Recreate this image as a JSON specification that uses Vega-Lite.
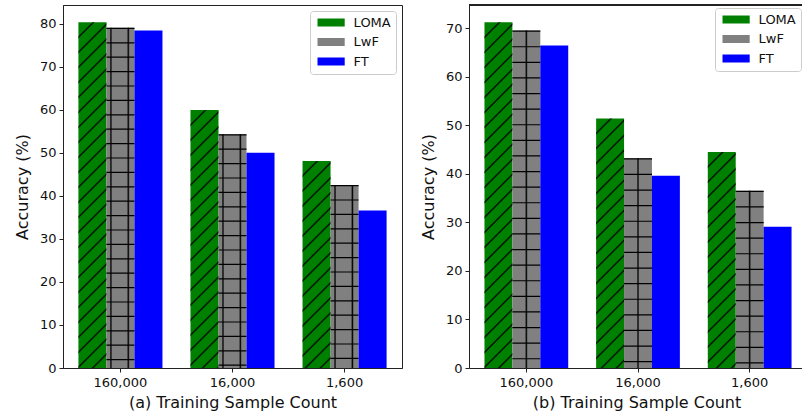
{
"$schema":"https://vega.github.io/schema/vega-lite/v6.json",
"background":"white",
"padding":{"left":13,"top":4,"right":0,"bottom":0},
"spacing":17,
"datasets":{
"a":[
{"n":"160,000","method":"LOMA","acc":80.3},{"n":"160,000","method":"LwF","acc":79.0},{"n":"160,000","method":"FT","acc":78.4},
{"n":"16,000","method":"LOMA","acc":59.9},{"n":"16,000","method":"LwF","acc":54.3},{"n":"16,000","method":"FT","acc":50.0},
{"n":"1,600","method":"LOMA","acc":48.1},{"n":"1,600","method":"LwF","acc":42.5},{"n":"1,600","method":"FT","acc":36.6}],
"b":[
{"n":"160,000","method":"LOMA","acc":71.2},{"n":"160,000","method":"LwF","acc":69.5},{"n":"160,000","method":"FT","acc":66.4},
{"n":"16,000","method":"LOMA","acc":51.4},{"n":"16,000","method":"LwF","acc":43.2},{"n":"16,000","method":"FT","acc":39.6},
{"n":"1,600","method":"LOMA","acc":44.5},{"n":"1,600","method":"LwF","acc":36.5},{"n":"1,600","method":"FT","acc":29.1}]
},
"hconcat":[
{
"width":339,"height":363,
"data":{"name":"a"},
"encoding":{
"x":{"field":"n","type":"nominal","sort":null,"scale":{"domain":["160,000","16,000","1,600"],"paddingInner":0.25,"paddingOuter":0.1375},"axis":{"title":"(a) Training Sample Count"}},
"xOffset":{"field":"method","type":"nominal","sort":null,"scale":{"domain":["LOMA","LwF","FT"],"paddingInner":0,"paddingOuter":0}},
"y":{"field":"acc","type":"quantitative","scale":{"domain":[0,84.3],"nice":false},"axis":{"title":"Accuracy (%)","values":[0,10,20,30,40,50,60,70,80]}}
},
"layer":[
{"mark":{"type":"bar"},"encoding":{"fill":{"field":"method","type":"nominal","scale":{"domain":["LOMA","LwF","FT"],"range":["#008000","#808080","#0000ff"]},"legend":{"title":null,"labelFontSize":13,"offset":6}}}},
{"transform":[{"filter":"datum.method === 'LOMA'"}],"mark":{"type":"bar"},"encoding":{"fill":{"condition":[
{"test":"datum.n === '160,000'","value":{"gradient":"linear","x1":0,"y1":0,"x2":0.0931,"y2":1.1492,"stops":[{"offset":0,"color":"#0000"},{"offset":0.033,"color":"#0000"},{"offset":0.0375,"color":"#000"},{"offset":0.042,"color":"#0000"},{"offset":0.0705,"color":"#0000"},{"offset":0.075,"color":"#000"},{"offset":0.0795,"color":"#0000"},{"offset":0.108,"color":"#0000"},{"offset":0.1125,"color":"#000"},{"offset":0.117,"color":"#0000"},{"offset":0.1455,"color":"#0000"},{"offset":0.15,"color":"#000"},{"offset":0.1545,"color":"#0000"},{"offset":0.183,"color":"#0000"},{"offset":0.1875,"color":"#000"},{"offset":0.192,"color":"#0000"},{"offset":0.2205,"color":"#0000"},{"offset":0.225,"color":"#000"},{"offset":0.2295,"color":"#0000"},{"offset":0.258,"color":"#0000"},{"offset":0.2625,"color":"#000"},{"offset":0.267,"color":"#0000"},{"offset":0.2955,"color":"#0000"},{"offset":0.3,"color":"#000"},{"offset":0.3045,"color":"#0000"},{"offset":0.333,"color":"#0000"},{"offset":0.3375,"color":"#000"},{"offset":0.342,"color":"#0000"},{"offset":0.3705,"color":"#0000"},{"offset":0.375,"color":"#000"},{"offset":0.3795,"color":"#0000"},{"offset":0.408,"color":"#0000"},{"offset":0.4125,"color":"#000"},{"offset":0.417,"color":"#0000"},{"offset":0.4455,"color":"#0000"},{"offset":0.45,"color":"#000"},{"offset":0.4545,"color":"#0000"},{"offset":0.483,"color":"#0000"},{"offset":0.4875,"color":"#000"},{"offset":0.492,"color":"#0000"},{"offset":0.5205,"color":"#0000"},{"offset":0.525,"color":"#000"},{"offset":0.5295,"color":"#0000"},{"offset":0.558,"color":"#0000"},{"offset":0.5625,"color":"#000"},{"offset":0.567,"color":"#0000"},{"offset":0.5955,"color":"#0000"},{"offset":0.6,"color":"#000"},{"offset":0.6045,"color":"#0000"},{"offset":0.633,"color":"#0000"},{"offset":0.6375,"color":"#000"},{"offset":0.642,"color":"#0000"},{"offset":0.6705,"color":"#0000"},{"offset":0.675,"color":"#000"},{"offset":0.6795,"color":"#0000"},{"offset":0.708,"color":"#0000"},{"offset":0.7125,"color":"#000"},{"offset":0.717,"color":"#0000"},{"offset":0.7455,"color":"#0000"},{"offset":0.75,"color":"#000"},{"offset":0.7545,"color":"#0000"},{"offset":0.783,"color":"#0000"},{"offset":0.7875,"color":"#000"},{"offset":0.792,"color":"#0000"},{"offset":0.8205,"color":"#0000"},{"offset":0.825,"color":"#000"},{"offset":0.8295,"color":"#0000"},{"offset":0.858,"color":"#0000"},{"offset":0.8625,"color":"#000"},{"offset":0.867,"color":"#0000"},{"offset":0.8955,"color":"#0000"},{"offset":0.9,"color":"#000"},{"offset":0.9045,"color":"#0000"},{"offset":0.933,"color":"#0000"},{"offset":0.9375,"color":"#000"},{"offset":0.942,"color":"#0000"},{"offset":1,"color":"#0000"}]}},
{"test":"datum.n === '16,000'","value":{"gradient":"linear","x1":0,"y1":0,"x2":0.1664,"y2":1.5329,"stops":[{"offset":0,"color":"#0000"},{"offset":0.033,"color":"#0000"},{"offset":0.0375,"color":"#000"},{"offset":0.042,"color":"#0000"},{"offset":0.0705,"color":"#0000"},{"offset":0.075,"color":"#000"},{"offset":0.0795,"color":"#0000"},{"offset":0.108,"color":"#0000"},{"offset":0.1125,"color":"#000"},{"offset":0.117,"color":"#0000"},{"offset":0.1455,"color":"#0000"},{"offset":0.15,"color":"#000"},{"offset":0.1545,"color":"#0000"},{"offset":0.183,"color":"#0000"},{"offset":0.1875,"color":"#000"},{"offset":0.192,"color":"#0000"},{"offset":0.2205,"color":"#0000"},{"offset":0.225,"color":"#000"},{"offset":0.2295,"color":"#0000"},{"offset":0.258,"color":"#0000"},{"offset":0.2625,"color":"#000"},{"offset":0.267,"color":"#0000"},{"offset":0.2955,"color":"#0000"},{"offset":0.3,"color":"#000"},{"offset":0.3045,"color":"#0000"},{"offset":0.333,"color":"#0000"},{"offset":0.3375,"color":"#000"},{"offset":0.342,"color":"#0000"},{"offset":0.3705,"color":"#0000"},{"offset":0.375,"color":"#000"},{"offset":0.3795,"color":"#0000"},{"offset":0.408,"color":"#0000"},{"offset":0.4125,"color":"#000"},{"offset":0.417,"color":"#0000"},{"offset":0.4455,"color":"#0000"},{"offset":0.45,"color":"#000"},{"offset":0.4545,"color":"#0000"},{"offset":0.483,"color":"#0000"},{"offset":0.4875,"color":"#000"},{"offset":0.492,"color":"#0000"},{"offset":0.5205,"color":"#0000"},{"offset":0.525,"color":"#000"},{"offset":0.5295,"color":"#0000"},{"offset":0.558,"color":"#0000"},{"offset":0.5625,"color":"#000"},{"offset":0.567,"color":"#0000"},{"offset":0.5955,"color":"#0000"},{"offset":0.6,"color":"#000"},{"offset":0.6045,"color":"#0000"},{"offset":0.633,"color":"#0000"},{"offset":0.6375,"color":"#000"},{"offset":0.642,"color":"#0000"},{"offset":0.6705,"color":"#0000"},{"offset":0.675,"color":"#000"},{"offset":0.6795,"color":"#0000"},{"offset":0.708,"color":"#0000"},{"offset":0.7125,"color":"#000"},{"offset":0.717,"color":"#0000"},{"offset":1,"color":"#0000"}]}}],
"value":{"gradient":"linear","x1":0,"y1":0,"x2":0.2564,"y2":1.8968,"stops":[{"offset":0,"color":"#0000"},{"offset":0.033,"color":"#0000"},{"offset":0.0375,"color":"#000"},{"offset":0.042,"color":"#0000"},{"offset":0.0705,"color":"#0000"},{"offset":0.075,"color":"#000"},{"offset":0.0795,"color":"#0000"},{"offset":0.108,"color":"#0000"},{"offset":0.1125,"color":"#000"},{"offset":0.117,"color":"#0000"},{"offset":0.1455,"color":"#0000"},{"offset":0.15,"color":"#000"},{"offset":0.1545,"color":"#0000"},{"offset":0.183,"color":"#0000"},{"offset":0.1875,"color":"#000"},{"offset":0.192,"color":"#0000"},{"offset":0.2205,"color":"#0000"},{"offset":0.225,"color":"#000"},{"offset":0.2295,"color":"#0000"},{"offset":0.258,"color":"#0000"},{"offset":0.2625,"color":"#000"},{"offset":0.267,"color":"#0000"},{"offset":0.2955,"color":"#0000"},{"offset":0.3,"color":"#000"},{"offset":0.3045,"color":"#0000"},{"offset":0.333,"color":"#0000"},{"offset":0.3375,"color":"#000"},{"offset":0.342,"color":"#0000"},{"offset":0.3705,"color":"#0000"},{"offset":0.375,"color":"#000"},{"offset":0.3795,"color":"#0000"},{"offset":0.408,"color":"#0000"},{"offset":0.4125,"color":"#000"},{"offset":0.417,"color":"#0000"},{"offset":0.4455,"color":"#0000"},{"offset":0.45,"color":"#000"},{"offset":0.4545,"color":"#0000"},{"offset":0.483,"color":"#0000"},{"offset":0.4875,"color":"#000"},{"offset":0.492,"color":"#0000"},{"offset":0.5205,"color":"#0000"},{"offset":0.525,"color":"#000"},{"offset":0.5295,"color":"#0000"},{"offset":0.558,"color":"#0000"},{"offset":0.5625,"color":"#000"},{"offset":0.567,"color":"#0000"},{"offset":0.5955,"color":"#0000"},{"offset":0.6,"color":"#000"},{"offset":0.6045,"color":"#0000"},{"offset":1,"color":"#0000"}]}}}},
{"transform":[{"filter":"datum.method === 'LwF'"}],"mark":{"type":"bar","fill":{"gradient":"linear","x1":0,"y1":0,"x2":1,"y2":0,"stops":[{"offset":0,"color":"#0000"},{"offset":0.11,"color":"#0000"},{"offset":0.16,"color":"#000"},{"offset":0.21,"color":"#0000"},{"offset":0.73,"color":"#0000"},{"offset":0.78,"color":"#000"},{"offset":0.83,"color":"#0000"},{"offset":1,"color":"#0000"}]}}},
{"transform":[{"filter":"datum.method === 'LwF'"}],"mark":{"type":"rule","color":"#000","strokeWidth":28,"strokeDash":[1.2,13.2],"strokeCap":"butt"},"encoding":{"y2":{"datum":0}}}
]
},
{
"width":335,"height":363,
"view":{"stroke":null},
"data":{"name":"b"},
"layer":[
{
"encoding":{
"x":{"field":"n","type":"nominal","sort":null,"scale":{"domain":["160,000","16,000","1,600"],"paddingInner":0.25,"paddingOuter":0.125,"align":0.554},"axis":{"title":"(b) Training Sample Count"}},
"xOffset":{"field":"method","type":"nominal","sort":null,"scale":{"domain":["LOMA","LwF","FT"],"paddingInner":0,"paddingOuter":0}},
"y":{"field":"acc","type":"quantitative","scale":{"domain":[0,74.76],"nice":false},"axis":{"title":"Accuracy (%)","values":[0,10,20,30,40,50,60,70]}}
},
"layer":[
{"mark":{"type":"bar"},"encoding":{"fill":{"field":"method","type":"nominal","scale":{"domain":["LOMA","LwF","FT"],"range":["#008000","#808080","#0000ff"]},"legend":{"title":null,"labelFontSize":13,"offset":3}}}},
{"transform":[{"filter":"datum.method === 'LOMA'"}],"mark":{"type":"bar"},"encoding":{"fill":{"condition":[
{"test":"datum.n === '160,000'","value":{"gradient":"linear","x1":0,"y1":0,"x2":0.0931,"y2":1.1495,"stops":[{"offset":0,"color":"#0000"},{"offset":0.033,"color":"#0000"},{"offset":0.0375,"color":"#000"},{"offset":0.042,"color":"#0000"},{"offset":0.0705,"color":"#0000"},{"offset":0.075,"color":"#000"},{"offset":0.0795,"color":"#0000"},{"offset":0.108,"color":"#0000"},{"offset":0.1125,"color":"#000"},{"offset":0.117,"color":"#0000"},{"offset":0.1455,"color":"#0000"},{"offset":0.15,"color":"#000"},{"offset":0.1545,"color":"#0000"},{"offset":0.183,"color":"#0000"},{"offset":0.1875,"color":"#000"},{"offset":0.192,"color":"#0000"},{"offset":0.2205,"color":"#0000"},{"offset":0.225,"color":"#000"},{"offset":0.2295,"color":"#0000"},{"offset":0.258,"color":"#0000"},{"offset":0.2625,"color":"#000"},{"offset":0.267,"color":"#0000"},{"offset":0.2955,"color":"#0000"},{"offset":0.3,"color":"#000"},{"offset":0.3045,"color":"#0000"},{"offset":0.333,"color":"#0000"},{"offset":0.3375,"color":"#000"},{"offset":0.342,"color":"#0000"},{"offset":0.3705,"color":"#0000"},{"offset":0.375,"color":"#000"},{"offset":0.3795,"color":"#0000"},{"offset":0.408,"color":"#0000"},{"offset":0.4125,"color":"#000"},{"offset":0.417,"color":"#0000"},{"offset":0.4455,"color":"#0000"},{"offset":0.45,"color":"#000"},{"offset":0.4545,"color":"#0000"},{"offset":0.483,"color":"#0000"},{"offset":0.4875,"color":"#000"},{"offset":0.492,"color":"#0000"},{"offset":0.5205,"color":"#0000"},{"offset":0.525,"color":"#000"},{"offset":0.5295,"color":"#0000"},{"offset":0.558,"color":"#0000"},{"offset":0.5625,"color":"#000"},{"offset":0.567,"color":"#0000"},{"offset":0.5955,"color":"#0000"},{"offset":0.6,"color":"#000"},{"offset":0.6045,"color":"#0000"},{"offset":0.633,"color":"#0000"},{"offset":0.6375,"color":"#000"},{"offset":0.642,"color":"#0000"},{"offset":0.6705,"color":"#0000"},{"offset":0.675,"color":"#000"},{"offset":0.6795,"color":"#0000"},{"offset":0.708,"color":"#0000"},{"offset":0.7125,"color":"#000"},{"offset":0.717,"color":"#0000"},{"offset":0.7455,"color":"#0000"},{"offset":0.75,"color":"#000"},{"offset":0.7545,"color":"#0000"},{"offset":0.783,"color":"#0000"},{"offset":0.7875,"color":"#000"},{"offset":0.792,"color":"#0000"},{"offset":0.8205,"color":"#0000"},{"offset":0.825,"color":"#000"},{"offset":0.8295,"color":"#0000"},{"offset":0.858,"color":"#0000"},{"offset":0.8625,"color":"#000"},{"offset":0.867,"color":"#0000"},{"offset":0.8955,"color":"#0000"},{"offset":0.9,"color":"#000"},{"offset":0.9045,"color":"#0000"},{"offset":0.933,"color":"#0000"},{"offset":0.9375,"color":"#000"},{"offset":0.942,"color":"#0000"},{"offset":1,"color":"#0000"}]}},
{"test":"datum.n === '16,000'","value":{"gradient":"linear","x1":0,"y1":0,"x2":0.1775,"y2":1.5826,"stops":[{"offset":0,"color":"#0000"},{"offset":0.033,"color":"#0000"},{"offset":0.0375,"color":"#000"},{"offset":0.042,"color":"#0000"},{"offset":0.0705,"color":"#0000"},{"offset":0.075,"color":"#000"},{"offset":0.0795,"color":"#0000"},{"offset":0.108,"color":"#0000"},{"offset":0.1125,"color":"#000"},{"offset":0.117,"color":"#0000"},{"offset":0.1455,"color":"#0000"},{"offset":0.15,"color":"#000"},{"offset":0.1545,"color":"#0000"},{"offset":0.183,"color":"#0000"},{"offset":0.1875,"color":"#000"},{"offset":0.192,"color":"#0000"},{"offset":0.2205,"color":"#0000"},{"offset":0.225,"color":"#000"},{"offset":0.2295,"color":"#0000"},{"offset":0.258,"color":"#0000"},{"offset":0.2625,"color":"#000"},{"offset":0.267,"color":"#0000"},{"offset":0.2955,"color":"#0000"},{"offset":0.3,"color":"#000"},{"offset":0.3045,"color":"#0000"},{"offset":0.333,"color":"#0000"},{"offset":0.3375,"color":"#000"},{"offset":0.342,"color":"#0000"},{"offset":0.3705,"color":"#0000"},{"offset":0.375,"color":"#000"},{"offset":0.3795,"color":"#0000"},{"offset":0.408,"color":"#0000"},{"offset":0.4125,"color":"#000"},{"offset":0.417,"color":"#0000"},{"offset":0.4455,"color":"#0000"},{"offset":0.45,"color":"#000"},{"offset":0.4545,"color":"#0000"},{"offset":0.483,"color":"#0000"},{"offset":0.4875,"color":"#000"},{"offset":0.492,"color":"#0000"},{"offset":0.5205,"color":"#0000"},{"offset":0.525,"color":"#000"},{"offset":0.5295,"color":"#0000"},{"offset":0.558,"color":"#0000"},{"offset":0.5625,"color":"#000"},{"offset":0.567,"color":"#0000"},{"offset":0.5955,"color":"#0000"},{"offset":0.6,"color":"#000"},{"offset":0.6045,"color":"#0000"},{"offset":0.633,"color":"#0000"},{"offset":0.6375,"color":"#000"},{"offset":0.642,"color":"#0000"},{"offset":0.6705,"color":"#0000"},{"offset":0.675,"color":"#000"},{"offset":0.6795,"color":"#0000"},{"offset":0.708,"color":"#0000"},{"offset":0.7125,"color":"#000"},{"offset":0.717,"color":"#0000"},{"offset":1,"color":"#0000"}]}}],
"value":{"gradient":"linear","x1":0,"y1":0,"x2":0.2359,"y2":1.8204,"stops":[{"offset":0,"color":"#0000"},{"offset":0.033,"color":"#0000"},{"offset":0.0375,"color":"#000"},{"offset":0.042,"color":"#0000"},{"offset":0.0705,"color":"#0000"},{"offset":0.075,"color":"#000"},{"offset":0.0795,"color":"#0000"},{"offset":0.108,"color":"#0000"},{"offset":0.1125,"color":"#000"},{"offset":0.117,"color":"#0000"},{"offset":0.1455,"color":"#0000"},{"offset":0.15,"color":"#000"},{"offset":0.1545,"color":"#0000"},{"offset":0.183,"color":"#0000"},{"offset":0.1875,"color":"#000"},{"offset":0.192,"color":"#0000"},{"offset":0.2205,"color":"#0000"},{"offset":0.225,"color":"#000"},{"offset":0.2295,"color":"#0000"},{"offset":0.258,"color":"#0000"},{"offset":0.2625,"color":"#000"},{"offset":0.267,"color":"#0000"},{"offset":0.2955,"color":"#0000"},{"offset":0.3,"color":"#000"},{"offset":0.3045,"color":"#0000"},{"offset":0.333,"color":"#0000"},{"offset":0.3375,"color":"#000"},{"offset":0.342,"color":"#0000"},{"offset":0.3705,"color":"#0000"},{"offset":0.375,"color":"#000"},{"offset":0.3795,"color":"#0000"},{"offset":0.408,"color":"#0000"},{"offset":0.4125,"color":"#000"},{"offset":0.417,"color":"#0000"},{"offset":0.4455,"color":"#0000"},{"offset":0.45,"color":"#000"},{"offset":0.4545,"color":"#0000"},{"offset":0.483,"color":"#0000"},{"offset":0.4875,"color":"#000"},{"offset":0.492,"color":"#0000"},{"offset":0.5205,"color":"#0000"},{"offset":0.525,"color":"#000"},{"offset":0.5295,"color":"#0000"},{"offset":0.558,"color":"#0000"},{"offset":0.5625,"color":"#000"},{"offset":0.567,"color":"#0000"},{"offset":0.5955,"color":"#0000"},{"offset":0.6,"color":"#000"},{"offset":0.6045,"color":"#0000"},{"offset":1,"color":"#0000"}]}}}},
{"transform":[{"filter":"datum.method === 'LwF'"}],"mark":{"type":"bar","fill":{"gradient":"linear","x1":0,"y1":0,"x2":1,"y2":0,"stops":[{"offset":0,"color":"#0000"},{"offset":0.45,"color":"#0000"},{"offset":0.5,"color":"#000"},{"offset":0.55,"color":"#0000"},{"offset":1,"color":"#0000"}]}}},
{"transform":[{"filter":"datum.method === 'LwF'"}],"mark":{"type":"rule","color":"#000","strokeWidth":28,"strokeDash":[1.2,14.4],"strokeCap":"butt"},"encoding":{"y2":{"datum":0}}}
]
},
{"mark":{"type":"rule","color":"#222","strokeWidth":1},"encoding":{"y":{"datum":74.76,"type":"quantitative"}}}
]
}
],
"resolve":{"scale":{"x":"independent","y":"independent","xOffset":"independent","fill":"independent"},"legend":{"fill":"independent"}},
"config":{
"font":"DejaVu Sans",
"view":{"stroke":"#222","strokeWidth":1},
"axis":{"domainColor":"#222","tickColor":"#222","labelColor":"#111","titleColor":"#111","labelFont":"DejaVu Sans","titleFont":"DejaVu Sans","labelFontSize":13,"titleFontSize":16,"titleFontWeight":"normal","tickSize":4,"grid":false},
"axisX":{"labelAngle":0,"labelPadding":4,"titlePadding":5},
"axisY":{"labelPadding":3,"titlePadding":9},
"legend":{"orient":"top-right","padding":5,"rowPadding":5.5,"labelFont":"DejaVu Sans","labelFontSize":13,"labelColor":"#111","symbolType":"M-3.4,-1H3.4V1H-3.4Z","symbolSize":64,"symbolOffset":9.6,"symbolStrokeWidth":0,"labelOffset":16,"fillColor":"rgba(255,255,255,0.85)","strokeColor":"#ccc","cornerRadius":3}
}
}
